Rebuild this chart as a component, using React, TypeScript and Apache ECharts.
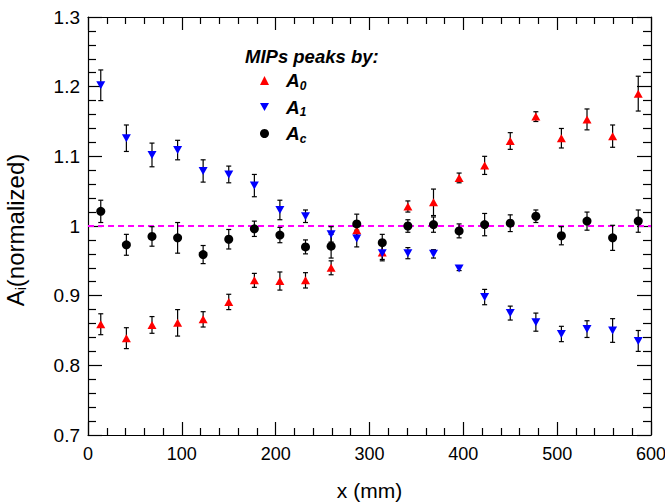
import React, { useEffect, useRef } from "react";
import * as echarts from "echarts";

const xPositions = [13.6, 40.9, 68.2, 95.5, 122.7, 150.0, 177.3, 204.5, 231.8, 259.1, 286.4, 313.6, 340.9, 368.2, 395.5, 422.7, 450.0, 477.3, 504.5, 531.8, 559.1, 586.4];

const a0Values = [0.859, 0.839, 0.858, 0.861, 0.866, 0.891, 0.922, 0.921, 0.922, 0.940, 0.994, 0.962, 1.028, 1.034, 1.069, 1.087, 1.122, 1.157, 1.126, 1.153, 1.129, 1.190];
const a0Errors = [0.015, 0.015, 0.012, 0.019, 0.011, 0.011, 0.010, 0.013, 0.011, 0.010, 0.010, 0.010, 0.008, 0.019, 0.007, 0.013, 0.012, 0.007, 0.014, 0.015, 0.016, 0.025];

const a1Values = [1.202, 1.126, 1.102, 1.109, 1.079, 1.074, 1.058, 1.023, 1.014, 0.988, 0.982, 0.961, 0.961, 0.960, 0.939, 0.898, 0.875, 0.862, 0.845, 0.852, 0.850, 0.835];
const a1Errors = [0.022, 0.019, 0.017, 0.014, 0.016, 0.012, 0.016, 0.014, 0.009, 0.011, 0.012, 0.011, 0.008, 0.006, 0.003, 0.011, 0.010, 0.013, 0.011, 0.012, 0.017, 0.015];

const acValues = [1.021, 0.973, 0.985, 0.983, 0.959, 0.981, 0.996, 0.987, 0.970, 0.971, 1.003, 0.976, 1.000, 1.002, 0.993, 1.002, 1.004, 1.014, 0.986, 1.007, 0.983, 1.007];
const acErrors = [0.016, 0.015, 0.014, 0.022, 0.013, 0.014, 0.011, 0.011, 0.010, 0.017, 0.014, 0.012, 0.009, 0.011, 0.010, 0.016, 0.012, 0.009, 0.013, 0.013, 0.018, 0.016];

const referenceLine = [[0, 1], [600, 1]];

const seriesNames = ["A0", "A1", "Ac"];
const seriesColors = ["#ff0000", "#0000ff", "#000000"];

const FONT = "'Liberation Sans', Arial, Helvetica, sans-serif";

function errorSeries(values: number[], errors: number[]) {
  return {
    type: "custom",
    silent: true,
    renderItem: (params: any, api: any) => {
      const x = api.value(0);
      const y = api.value(1);
      const e = api.value(2);
      const top = api.coord([x, y + e]);
      const bot = api.coord([x, y - e]);
      const cap = 2.5;
      const style = { stroke: "#000", lineWidth: 1.2 };
      return {
        type: "group",
        children: [
          { type: "line", shape: { x1: top[0], y1: top[1], x2: bot[0], y2: bot[1] }, style },
          { type: "line", shape: { x1: top[0] - cap, y1: top[1], x2: top[0] + cap, y2: top[1] }, style },
          { type: "line", shape: { x1: bot[0] - cap, y1: bot[1], x2: bot[0] + cap, y2: bot[1] }, style },
        ],
      };
    },
    data: xPositions.map((x, i) => [x, values[i], errors[i]]),
    z: 3,
  };
}

function pointSeries(name: string, values: number[], symbol: string, size: any, color: string, z: number) {
  return {
    type: "scatter",
    name,
    symbol,
    symbolSize: size,
    itemStyle: { color, opacity: 1 },
    data: xPositions.map((x, i) => [x, values[i]]),
    z,
  };
}

const axisCommon = {
  axisLine: { show: true, onZero: false, lineStyle: { color: "#000", width: 1.2 } },
  splitLine: { show: false },
};

export default function App() {
  const ref = useRef<HTMLDivElement>(null);
  useEffect(() => {
    if (!ref.current) return;
    const chart = echarts.init(ref.current, null, { renderer: "svg" });
    const downTri = "path://M0,0 L10,0 L5,9 Z";
    const option: any = {
      animation: false,
      backgroundColor: "#fff",
      textStyle: { fontFamily: FONT },
      title: {
        text: "MIPs peaks by:",
        left: 245,
        top: 47,
        padding: 0,
        textStyle: { fontFamily: FONT, fontSize: 18.5, fontWeight: "bold", fontStyle: "italic", color: "#000" },
      },
      legend: {
        orient: "vertical",
        left: 260,
        top: 71,
        padding: 0,
        itemGap: 6,
        itemWidth: 9,
        itemHeight: 9,
        data: seriesNames,
        formatter: (name: string) => `{b|A}{s|${name.slice(1)}}`,
        textStyle: {
          padding: [0, 0, 0, 12],
          rich: {
            b: { fontFamily: FONT, fontSize: 19, fontWeight: "bold", fontStyle: "italic", color: "#000", lineHeight: 22 },
            s: { fontFamily: FONT, fontSize: 12, fontWeight: "bold", fontStyle: "italic", color: "#000", verticalAlign: "bottom", padding: [8, 0, 0, 0], lineHeight: 14 },
          },
        },
      },
      grid: { left: 88, right: 14, top: 17, bottom: 67, containLabel: false, outerBoundsMode: "none" },
      xAxis: [
        {
          ...axisCommon,
          type: "value",
          min: 0,
          max: 600,
          interval: 100,
          position: "bottom",
          name: "x (mm)",
          nameLocation: "middle",
          nameGap: 45,
          nameTextStyle: { fontFamily: FONT, fontSize: 21, color: "#000" },
          axisTick: { show: true, inside: true, length: 13, lineStyle: { color: "#000", width: 1.2 } },
          minorTick: { show: true, splitNumber: 5, length: 7, lineStyle: { color: "#000", width: 1.2 } },
          axisLabel: { fontFamily: FONT, fontSize: 18, color: "#000", margin: 10 },
        },
        {
          ...axisCommon,
          type: "value",
          min: 0,
          max: 600,
          interval: 100,
          position: "top",
          axisTick: { show: true, inside: true, length: 13, lineStyle: { color: "#000", width: 1.2 } },
          minorTick: { show: true, splitNumber: 5, length: 7, lineStyle: { color: "#000", width: 1.2 } },
          axisLabel: { show: false },
        },
      ],
      yAxis: [
        {
          ...axisCommon,
          type: "value",
          min: 0.7,
          max: 1.3,
          interval: 0.1,
          position: "left",
          name: "{a|A}{i|i}{a|(normalized)}",
          nameLocation: "middle",
          nameGap: 60,
          nameTextStyle: {
            color: "#000",
            padding: [0, 8, 0, 0],
            rich: {
              a: { fontFamily: FONT, fontSize: 24, color: "#000", lineHeight: 26 },
              i: { fontFamily: FONT, fontSize: 14, color: "#000", verticalAlign: "bottom", padding: [10, 0, 0, 0], lineHeight: 16 },
            },
          },
          axisTick: { show: true, inside: true, length: 14, lineStyle: { color: "#000", width: 1.2 } },
          minorTick: { show: true, splitNumber: 5, length: 8, lineStyle: { color: "#000", width: 1.2 } },
          axisLabel: {
            fontFamily: FONT,
            fontSize: 19,
            color: "#000",
            margin: 8,
            formatter: (v: number) => String(parseFloat(v.toFixed(1))),
          },
        },
        {
          ...axisCommon,
          type: "value",
          min: 0.7,
          max: 1.3,
          interval: 0.1,
          position: "right",
          axisTick: { show: true, inside: true, length: 14, lineStyle: { color: "#000", width: 1.2 } },
          minorTick: { show: true, splitNumber: 5, length: 8, lineStyle: { color: "#000", width: 1.2 } },
          axisLabel: { show: false },
        },
      ],
      series: [
        {
          type: "line",
          data: referenceLine,
          symbol: "none",
          silent: true,
          lineStyle: { color: "#ff00ff", width: 2, type: [6, 4] },
          z: 2,
        },
        errorSeries(a0Values, a0Errors),
        pointSeries(seriesNames[0], a0Values, "triangle", [9, 8], seriesColors[0], 4),
        errorSeries(a1Values, a1Errors),
        pointSeries(seriesNames[1], a1Values, downTri, [9, 8], seriesColors[1], 5),
        errorSeries(acValues, acErrors),
        pointSeries(seriesNames[2], acValues, "circle", 9, seriesColors[2], 6),
      ],
    };
    chart.setOption(option);
    return () => chart.dispose();
  }, []);
  return <div ref={ref} style={{ position: "fixed", left: 0, top: 0, width: 665, height: 502 }} />;
}
